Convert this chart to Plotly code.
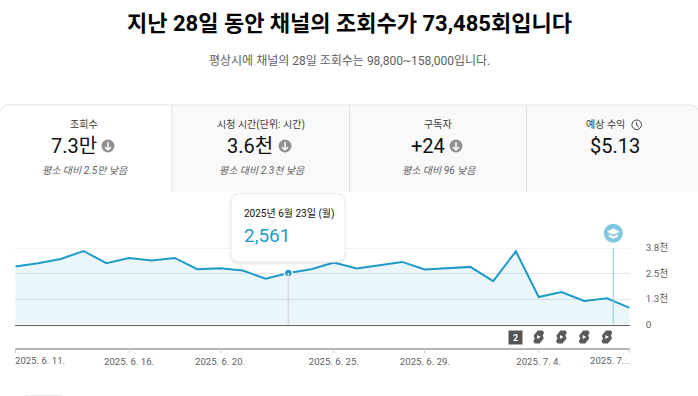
import plotly.graph_objects as go

dates = ["2025-06-11","2025-06-12","2025-06-13","2025-06-14","2025-06-15","2025-06-16","2025-06-17",
         "2025-06-18","2025-06-19","2025-06-20","2025-06-21","2025-06-22","2025-06-23","2025-06-24",
         "2025-06-25","2025-06-26","2025-06-27","2025-06-28","2025-06-29","2025-06-30","2025-07-01",
         "2025-07-02","2025-07-03","2025-07-04","2025-07-05","2025-07-06","2025-07-07","2025-07-08"]
views = [2879,3043,3257,3652,3043,3307,3175,3307,2747,2797,2681,2270,2561,2747,
         3076,2780,2945,3109,2731,2780,2862,2155,3636,1365,1612,1168,1300,822]
y_ticks = [0,1266,2533,3800]
y_labels = ["0","1.3천","2.5천","3.8천"]
x_ticks = ["2025-06-11","2025-06-16","2025-06-20","2025-06-25","2025-06-29","2025-07-04","2025-07-08"]
x_labels = ["","2025. 6. 16.","2025. 6. 20.","2025. 6. 25.","2025. 6. 29.","2025. 7. 4.",""]
x_first_label = "2025. 6. 11."
x_last_label = "2025. 7..."
hover_date = "2025-06-23"
hover_value = 2561
hover_title = "2025년 6월 23일 (월)"
hover_text = "2,561"
title = "지난 28일 동안 채널의 조회수가 73,485회입니다"
subtitle = "평상시에 채널의 28일 조회수는 98,800~158,000입니다."
card_titles = ["조회수","시청 시간(단위: 시간)","구독자","예상 수익"]
card_values = ["7.3만","3.6천","+24","$5.13"]
card_notes = ["평소 대비 2.5만 낮음","평소 대비 2.3천 낮음","평소 대비 96 낮음",""]
short_dates = ["2025-07-04","2025-07-05","2025-07-06","2025-07-07"]
box_date = "2025-07-03"
milestone_date = "2025-07-07 06:40"

W, H = 698, 396
FONT = "Roboto, 'Noto Sans CJK KR', sans-serif"
BLUE = "#1f9bc9"

def X(p): return p / W
def Y(p): return 1 - p / H

shapes = []
ann = []

def rect(x0, y0, x1, y1, fill, line="rgba(0,0,0,0)", lw=0, layer="below"):
    shapes.append(dict(type="rect", xref="paper", yref="paper", x0=X(x0), x1=X(x1), y0=Y(y0), y1=Y(y1),
                       fillcolor=fill, line=dict(color=line, width=lw), layer=layer))

def seg(x0, y0, x1, y1, color, lw=1, layer="below"):
    shapes.append(dict(type="line", xref="paper", yref="paper", x0=X(x0), x1=X(x1), y0=Y(y0), y1=Y(y1),
                       line=dict(color=color, width=lw), layer=layer))

def path(points, fill, line="rgba(0,0,0,0)", lw=0, layer="above", close=True):
    d = "M " + " L ".join(f"{X(a):.5f} {Y(b):.5f}" for a, b in points) + (" Z" if close else "")
    shapes.append(dict(type="path", xref="paper", yref="paper", path=d, fillcolor=fill,
                       line=dict(color=line, width=lw), layer=layer))

def rrect(x0, y0, x1, y1, r, fill, line="rgba(0,0,0,0)", lw=0, layer="above"):
    d = (f"M {X(x0+r):.5f} {Y(y0):.5f} L {X(x1-r):.5f} {Y(y0):.5f} Q {X(x1):.5f} {Y(y0):.5f} {X(x1):.5f} {Y(y0+r):.5f} "
         f"L {X(x1):.5f} {Y(y1-r):.5f} Q {X(x1):.5f} {Y(y1):.5f} {X(x1-r):.5f} {Y(y1):.5f} "
         f"L {X(x0+r):.5f} {Y(y1):.5f} Q {X(x0):.5f} {Y(y1):.5f} {X(x0):.5f} {Y(y1-r):.5f} "
         f"L {X(x0):.5f} {Y(y0+r):.5f} Q {X(x0):.5f} {Y(y0):.5f} {X(x0+r):.5f} {Y(y0):.5f} Z")
    shapes.append(dict(type="path", xref="paper", yref="paper", path=d, fillcolor=fill,
                       line=dict(color=line, width=lw), layer=layer))

def circle(cx, cy, r, fill, line="rgba(0,0,0,0)", lw=0, layer="above"):
    shapes.append(dict(type="circle", xref="paper", yref="paper", x0=X(cx-r), x1=X(cx+r), y0=Y(cy-r), y1=Y(cy+r),
                       fillcolor=fill, line=dict(color=line, width=lw), layer=layer))

def text(x, y, s, size, color="#0f0f0f", anchor="center", style=None, xshift=0):
    ann.append(dict(xref="paper", yref="paper", x=X(x), y=Y(y), text=s, showarrow=False, xanchor=anchor,
                    yanchor="middle", align=anchor, borderpad=0, xshift=xshift,
                    font=dict(family=FONT, size=size, color=color, style=style if style else "normal")))

# header
text(349.5, 24, f"<b>{title}</b>", 22, "#030303")
text(349.5, 61, subtitle, 12, "#606060")

# cards
rect(172, 105, 698, 192, "#f9f9f9")
path([(0,112),(3,107),(7,105),(692,105),(696,107),(698,110)], "rgba(0,0,0,0)", "#e5e5e5", 1, "below", close=False)
for x in (172, 349.5, 526.5):
    seg(x, 105, x, 192, "#e0e0e0", 1)
tcx = [83.7, 261, 438, 605.5]
vcx = [73.5, 250, 427.6, 615]
ncx = [84.6, 262, 438.6]
icx = [108, 285, 456]
for i in range(4):
    text(tcx[i], 124.5, card_titles[i], 10, "#3a3a3a")
    text(vcx[i], 146, card_values[i], 20, "#0f0f0f")
    if card_notes[i]:
        text(ncx[i], 170.5, card_notes[i], 10, "#606060", style="italic")
for cx in icx:
    circle(cx, 146, 6.5, "#909090")
    seg(cx, 142, cx, 150, "#ffffff", 1.5, "above")
    seg(cx-3, 147, cx, 150, "#ffffff", 1.5, "above")
    seg(cx+3, 147, cx, 150, "#ffffff", 1.5, "above")
circle(636.7, 124.8, 4.8, "#ffffff", "#404040", 1)
seg(636.7, 122, 636.7, 125, "#404040", 1, "above")
seg(636.7, 125, 638.7, 127.5, "#404040", 1, "above")

# chart guides tied to the date axis
shapes.append(dict(type="line", xref="x", yref="y", x0=hover_date, x1=hover_date, y0=0, y1=hover_value,
                   line=dict(color="#d3dade", width=1.5), layer="above"))
shapes.append(dict(type="line", xref="x", yref="y", x0=milestone_date, x1=milestone_date, y0=0, y1=3800,
                   line=dict(color="#8ccbe0", width=1), layer="above"))

# milestone badge
mx, my = 613.3, 233.3
circle(mx, my, 9.5, "#80c8e2")
path([(mx-6.5,my-1.5),(mx,my-5),(mx+6.5,my-1.5),(mx,my+1.5)], "#ffffff")
path([(mx-4.5,my+1),(mx,my+3.2),(mx+4.5,my+1),(mx+4.5,my+3.5),(mx,my+5.5),(mx-4.5,my+3.5)], "#ffffff")

# upload markers under the plot
ann.append(dict(xref="x", yref="paper", x=box_date, y=Y(337), text="<b>2</b>", showarrow=False,
                xanchor="center", yanchor="middle", bgcolor="#555555", width=13, height=13, borderpad=0,
                font=dict(family=FONT, size=9, color="#ffffff")))
for d in short_dates:
    shapes.append(dict(type="path", xref="x", yref="paper", xsizemode="pixel", ysizemode="pixel",
                       xanchor=d, yanchor=Y(337),
                       path="M -1 6.5 L 4 6.5 L 5.5 4 L 4 2 L 5 -1.5 L 1 -6.5 L -4 -6.5 L -5.5 -4 L -4 -2 L -5 1.5 Z",
                       fillcolor="#5a5a5a", line=dict(width=0), layer="above"))
    shapes.append(dict(type="path", xref="x", yref="paper", xsizemode="pixel", ysizemode="pixel",
                       xanchor=d, yanchor=Y(337), path="M -1.5 -2 L 2 0 L -1.5 2 Z",
                       fillcolor="#ffffff", line=dict(width=0), layer="above"))

# tooltip
for grow, alpha in ((3, 0.012), (2, 0.018), (1, 0.03)):
    rrect(231-grow, 193.5-grow+1, 345+grow, 262+grow+1, 10+grow, f"rgba(0,0,0,{alpha})")
rrect(231, 193.5, 345, 262, 10, "#ffffff", "#ececec", 1)
text(243.5, 214.5, hover_title, 10, "#0f0f0f", "left", xshift=-1)
text(243.5, 236, hover_text, 19, BLUE, "left", xshift=-1)

# end labels, aligned inside the axis span
ann.append(dict(xref="x", yref="paper", x=dates[0], y=Y(360), text=x_first_label, showarrow=False, xanchor="left",
                yanchor="middle", borderpad=0, xshift=-1, font=dict(family=FONT, size=9.6, color="#606060")))
ann.append(dict(xref="x", yref="paper", x=dates[-1], y=Y(360), text=x_last_label, showarrow=False, xanchor="right",
                yanchor="middle", borderpad=0, font=dict(family=FONT, size=9.6, color="#606060")))

fig = go.Figure()
fig.add_trace(go.Scatter(x=dates, y=views, mode="lines", fill="tozeroy", fillcolor="rgba(31,155,201,0.095)",
                         line=dict(color=BLUE, width=2), hoverinfo="skip", showlegend=False))
fig.add_trace(go.Scatter(x=[hover_date], y=[hover_value], mode="markers", hoverinfo="skip", showlegend=False,
                         marker=dict(size=8, color=BLUE, line=dict(color="#ffffff", width=1.5))))
# lower date strip shares the main scale
fig.add_trace(go.Scatter(x=dates, y=[None]*len(dates), xaxis="x2", yaxis="y", hoverinfo="skip", showlegend=False))

x_range = [dates[0], dates[-1]]
x_domain = [15.3/W, 629.7/W]
fig.update_layout(
    width=W, height=H, margin=dict(l=0, r=0, t=0, b=0),
    paper_bgcolor="#ffffff", plot_bgcolor="#ffffff",
    font=dict(family=FONT, size=10, color="#606060"),
    shapes=shapes, annotations=ann, showlegend=False,
    xaxis=dict(domain=x_domain, range=x_range, type="date", showgrid=False, showticklabels=False, ticks="",
               zeroline=False, showline=True, linecolor="#606060", linewidth=1, anchor="y"),
    xaxis2=dict(domain=x_domain, range=x_range, type="date", overlaying="x", anchor="free",
                position=(H-348.5)/H, showgrid=False, showline=True, linecolor="#b5b5b5", linewidth=1.5,
                tickmode="array", tickvals=x_ticks, ticktext=x_labels, ticks="outside", ticklen=4,
                tickcolor="#cccccc", tickfont=dict(family=FONT, size=9.6, color="#606060"), zeroline=False),
    yaxis=dict(domain=[(H-324.5)/H, (H-248)/H], range=[0, 3800], side="right", tickmode="array",
               tickvals=y_ticks, ticktext=y_labels, showgrid=True, gridcolor="#e4e4e4", gridwidth=1,
               zeroline=False, showline=False, ticks="", ticklabelstandoff=15, automargin=False,
               tickfont=dict(family=FONT, size=9.8, color="#606060")),
)
# heavier top rule
fig.add_shape(type="line", xref="paper", yref="y", x0=15.3/W, x1=629.7/W, y0=3800, y1=3800,
              line=dict(color="#f2f2f2", width=2), layer="below")
fig.add_shape(type="line", xref="paper", yref="paper", x0=25/W, x1=62/W, y0=Y(395.5), y1=Y(395.5),
              line=dict(color="#ececec", width=1), layer="below")

fig.write_html("out.html", config=dict(displayModeBar=False),
               post_script="document.body.style.margin='0';document.body.style.overflow='hidden';")
